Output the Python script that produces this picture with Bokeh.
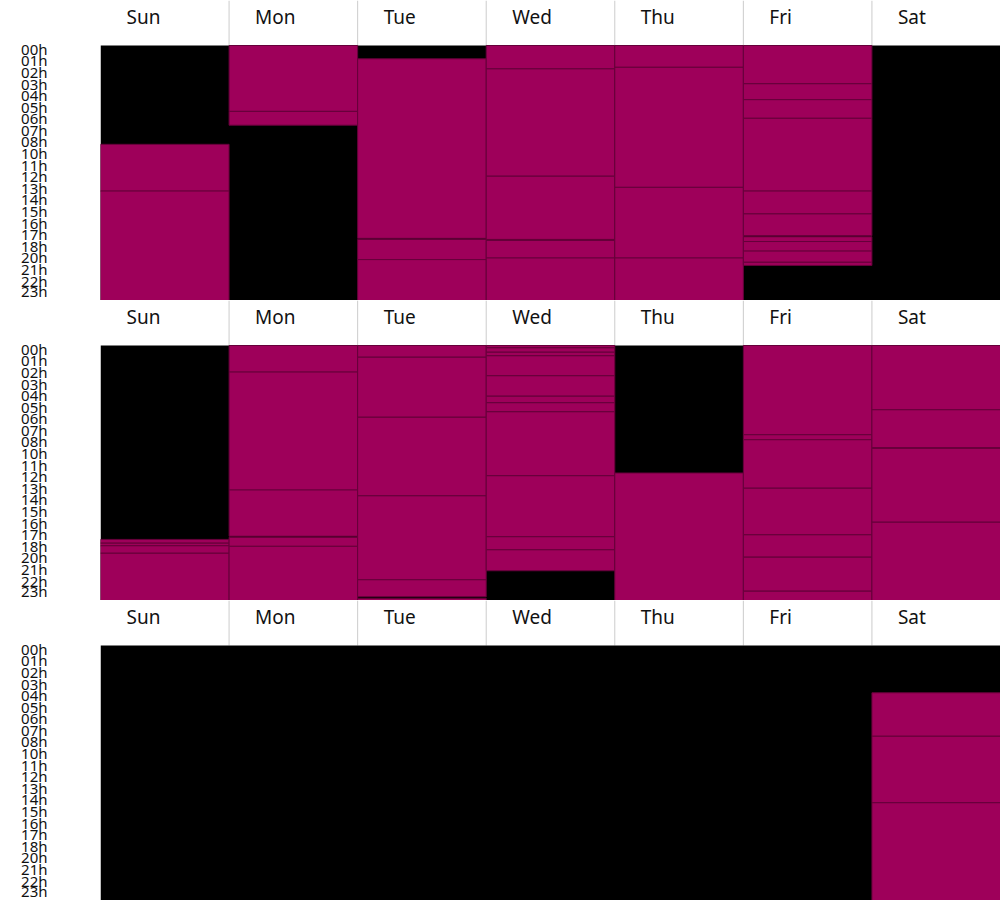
from bokeh.plotting import figure
from bokeh.models import Range1d, LinearAxis, FixedTicker
from bokeh.layouts import column
from bokeh.embed import file_html
from bokeh.resources import INLINE
from bokeh.core.properties import value

# ---------------- data ----------------
days = ["Sun", "Mon", "Tue", "Wed", "Thu", "Fri", "Sat"]
hour_labels = ["00h", "01h", "02h", "03h", "04h", "05h", "06h", "07h", "08h",
               "10h", "11h", "12h", "13h", "14h", "15h", "16h", "17h", "18h",
               "20h", "21h", "22h", "23h"]

# week 1 activity sessions (day index, start hour, end hour)
w1_day = [0, 0,
          1, 1,
          2, 2, 2,
          3, 3, 3, 3, 3,
          4, 4, 4, 4,
          5, 5, 5, 5, 5, 5, 5, 5, 5, 5]
w1_start = [9.3, 13.7,
            0.0, 6.2,
            1.25, 18.25, 20.15,
            0.0, 2.2, 12.3, 18.35, 20.0,
            0.0, 2.05, 13.35, 20.0,
            0.0, 3.6, 5.1, 6.85, 13.7, 15.85, 18.0, 18.45, 19.35, 20.4]
w1_end = [13.7, 24.0,
          6.2, 7.5,
          18.15, 20.15, 24.0,
          2.2, 12.3, 18.25, 20.0, 24.0,
          2.05, 13.35, 20.0, 24.0,
          3.6, 5.1, 6.85, 13.7, 15.85, 17.9, 18.45, 19.35, 20.4, 20.7]

# week 2
w2_day = [0, 0, 0, 0,
          1, 1, 1, 1, 1,
          2, 2, 2, 2, 2, 2,
          3, 3, 3, 3, 3, 3, 3, 3, 3, 3, 3,
          4,
          5, 5, 5, 5, 5, 5, 5,
          6, 6, 6, 6]
w2_start = [18.25, 18.6, 18.85, 19.55,
            0.0, 2.5, 13.6, 18.05, 18.9,
            0.0, 1.1, 6.75, 14.15, 22.05, 23.8,
            0.0, 0.22, 0.63, 0.97, 2.85, 4.77, 5.39, 6.24, 12.26, 18.0, 19.23,
            12.0,
            0.0, 8.4, 8.87, 13.43, 17.82, 19.92, 23.12,
            0.0, 6.05, 9.68, 16.63]
w2_end = [18.6, 18.85, 19.55, 24.0,
          2.5, 13.6, 17.95, 18.9, 24.0,
          1.1, 6.75, 14.15, 22.05, 23.65, 24.0,
          0.22, 0.63, 0.97, 2.85, 4.77, 5.39, 6.24, 12.26, 18.0, 19.23, 21.2,
          24.0,
          8.4, 8.87, 13.43, 17.82, 19.92, 23.12, 24.0,
          6.05, 9.62, 16.63, 24.0]

# week 3
w3_day = [6, 6, 6]
w3_start = [4.45, 8.54, 14.8]
w3_end = [8.54, 14.8, 24.0]

weeks = [(w1_day, w1_start, w1_end),
         (w2_day, w2_start, w2_end),
         (w3_day, w3_start, w3_end)]

# ---------------- style / layout ----------------
ACTIVE = "#9e005a"
EDGE = "#66003a"
FONT = "Noto Sans"
PANEL_H = 300          # pixel height of one week panel
HEADER_PX = 45         # pixel height of the day-name header strip
BODY_PX = PANEL_H - HEADER_PX
HOURS = 24.0
HDR = HOURS * HEADER_PX / BODY_PX          # header height in hour units
LABEL_SHIFT = 0.22                          # slot units, labels sit a bit high


def make_panel(day, start, end):
    n = len(hour_labels)
    p = figure(width=1000, height=PANEL_H,
               x_range=Range1d(0, len(days)), y_range=Range1d(HOURS, -HDR),
               output_backend="svg", toolbar_location=None,
               x_axis_location=None, y_axis_location=None,
               min_border_left=100, min_border_right=0,
               min_border_top=0, min_border_bottom=0,
               outline_line_color=None, background_fill_color="white",
               border_fill_color="white")
    p.grid.visible = False

    # hour label axis: evenly spaced slots over the body area
    slots_hdr = n * HEADER_PX / BODY_PX
    p.extra_y_ranges = {"slots": Range1d(n, -slots_hdr)}
    ticks = [i + 0.5 - LABEL_SHIFT for i in range(n)]
    ax = LinearAxis(y_range_name="slots", ticker=FixedTicker(ticks=ticks))
    ax.major_label_overrides = {t: lab for t, lab in zip(ticks, hour_labels)}
    ax.axis_line_color = None
    ax.major_tick_line_color = None
    ax.minor_tick_line_color = None
    ax.major_tick_out = 0
    ax.major_tick_in = 0
    ax.minor_tick_out = 0
    ax.minor_tick_in = 0
    ax.major_label_standoff = 53
    ax.major_label_text_font = FONT
    ax.major_label_text_font_size = "15px"
    ax.major_label_text_color = "#111111"
    p.add_layout(ax, "left")

    idx = list(range(len(days)))
    # header: separators and day names
    bounds = idx[1:]
    p.segment(x0=bounds, y0=-HDR, x1=bounds, y1=0, line_color="#cccccc", line_width=1)
    p.text(x=idx, y=-HDR * (1 - 16.3 / HEADER_PX), text=days, x_offset=26,
           text_baseline="middle", text_align="left",
           text_font=value(FONT), text_font_size="19px", text_color="#111111")

    # body: inactive background and active sessions
    p.quad(left=[0], right=[len(days)], top=[0], bottom=[HOURS],
           fill_color="black", line_color=None)
    p.quad(left=day, right=[d + 1 for d in day], top=start, bottom=end,
           fill_color=ACTIVE, line_color=EDGE, line_width=1)
    return p


panels = [make_panel(d, s, e) for d, s, e in weeks]
layout = column(*panels, spacing=0)

open("out.html", "w").write(file_html(layout, INLINE))
